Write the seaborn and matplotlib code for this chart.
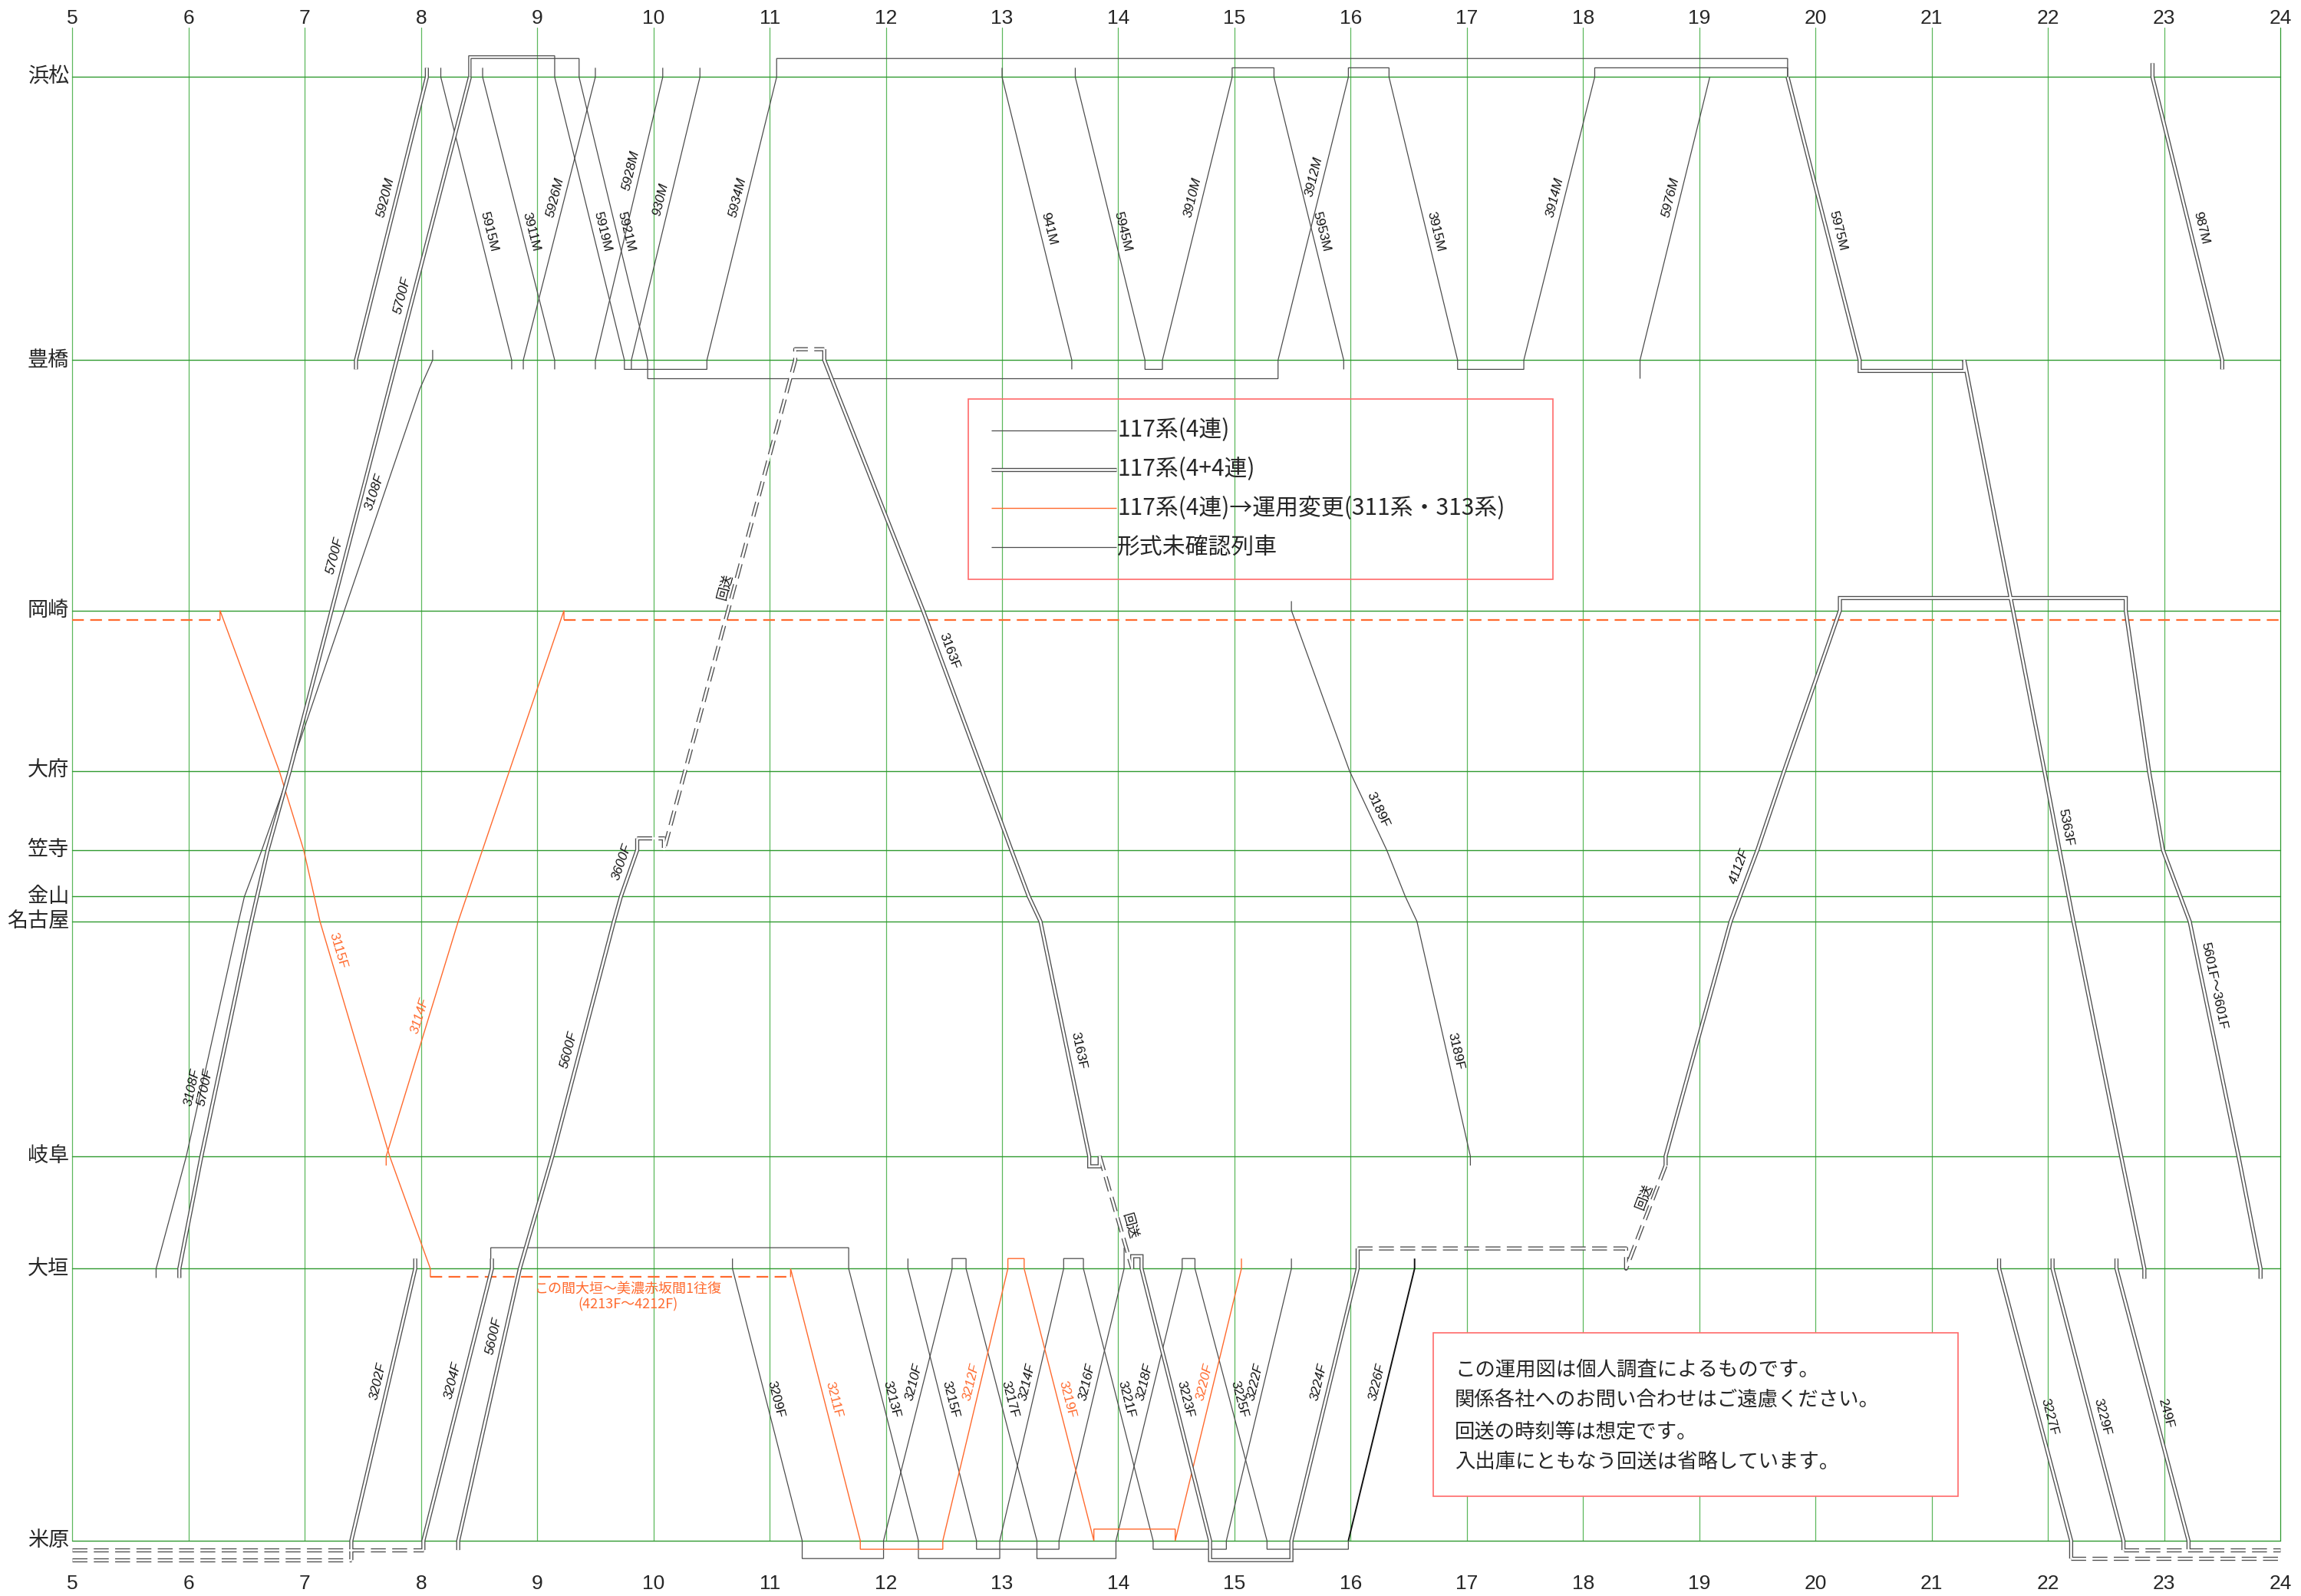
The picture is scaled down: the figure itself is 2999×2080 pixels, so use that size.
import math
import matplotlib
matplotlib.use('Agg')
import matplotlib.pyplot as plt
from matplotlib import font_manager as fm
from matplotlib.patches import Rectangle
import seaborn as sns

# --- stations (km along the line) ---
STATIONS = ['浜松', '豊橋', '岡崎', '大府', '笠寺', '金山', '名古屋', '岐阜', '大垣', '米原']
STATION_KM = [257.1, 293.6, 325.9, 346.6, 356.8, 362.8, 366.0, 396.3, 410.8, 445.9]
HOURS = list(range(5, 25))

# --- train runs: (hour, station, offset km from the station line) ---
# 117系 4連 (single line)
r5915M = [(8.17, '浜松', -1.2), (8.17, '浜松', 0), (8.78, '豊橋', 0), (8.78, '豊橋', 1.2)]
r3911M = [(8.53, '浜松', -1.2), (8.53, '浜松', 0), (9.15, '豊橋', 0), (9.15, '豊橋', 1.2)]
r5926M = [(8.88, '豊橋', 1.2), (8.88, '豊橋', 0), (9.50, '浜松', 0), (9.50, '浜松', -1.2)]
r5928M = [(9.50, '豊橋', 1.2), (9.50, '豊橋', 0), (10.08, '浜松', 0), (10.08, '浜松', -1.2)]
r930M = [(9.81, '豊橋', 1.2), (9.81, '豊橋', 0), (10.40, '浜松', 0), (10.40, '浜松', -1.2)]
r5919M = [(8.41, '浜松', 0), (8.41, '浜松', -2.75), (9.15, '浜松', -2.75), (9.15, '浜松', 0),
          (9.75, '豊橋', 0), (9.75, '豊橋', 1.2), (10.46, '豊橋', 1.2), (10.46, '豊橋', 0),
          (11.06, '浜松', 0), (11.06, '浜松', -2.4), (19.76, '浜松', -2.4), (19.76, '浜松', 0)]
r5921M = [(8.43, '浜松', 0), (8.43, '浜松', -2.4), (9.36, '浜松', -2.4), (9.36, '浜松', 0),
          (9.95, '豊橋', 0), (9.95, '豊橋', 2.4), (15.375, '豊橋', 2.4), (15.375, '豊橋', 0),
          (15.98, '浜松', 0), (15.98, '浜松', -1.2), (16.33, '浜松', -1.2), (16.33, '浜松', 0),
          (16.92, '豊橋', 0), (16.92, '豊橋', 1.2), (17.49, '豊橋', 1.2), (17.49, '豊橋', 0),
          (18.10, '浜松', 0), (18.10, '浜松', -1.2), (19.76, '浜松', -1.2), (19.76, '浜松', 0)]
r941M = [(13.00, '浜松', -1.2), (13.00, '浜松', 0), (13.60, '豊橋', 0), (13.60, '豊橋', 1.2)]
r5945M = [(13.63, '浜松', -1.2), (13.63, '浜松', 0), (14.23, '豊橋', 0), (14.23, '豊橋', 1.2),
          (14.38, '豊橋', 1.2), (14.38, '豊橋', 0), (14.98, '浜松', 0), (14.98, '浜松', -1.2),
          (15.34, '浜松', -1.2), (15.34, '浜松', 0), (15.94, '豊橋', 0), (15.94, '豊橋', 1.2)]
r5976M = [(18.49, '豊橋', 2.4), (18.49, '豊橋', 0), (19.09, '浜松', 0)]
r3108F = [(5.72, '大垣', 1.2), (5.72, '大垣', 0), (5.98, '岐阜', 0), (6.43, '名古屋', 0),
          (6.48, '金山', 0), (6.63, '笠寺', 0), (6.87, '大府', 0), (7.34, '岡崎', 0),
          (7.99, '豊橋', 3.7), (8.10, '豊橋', 0), (8.10, '豊橋', -1.3)]
r3189F = [(15.49, '岡崎', -1.2), (15.49, '岡崎', 0), (15.99, '大府', 0), (16.31, '笠寺', 0),
          (16.47, '金山', 0), (16.57, '名古屋', 0), (17.03, '岐阜', 0), (17.03, '岐阜', 1.2)]
r3209F = [(10.68, '大垣', -1.3), (10.68, '大垣', 0), (11.28, '米原', 0), (11.28, '米原', 2.3),
          (11.98, '米原', 2.3), (11.98, '米原', 0), (12.57, '大垣', 0), (12.57, '大垣', -1.3),
          (12.69, '大垣', -1.3), (12.69, '大垣', 0), (13.30, '米原', 0), (13.30, '米原', 2.3),
          (13.98, '米原', 2.3), (13.98, '米原', 0), (14.55, '大垣', 0), (14.55, '大垣', -1.3),
          (14.66, '大垣', -1.3), (14.66, '大垣', 0), (15.28, '米原', 0), (15.28, '米原', 1.1),
          (15.98, '米原', 1.1), (15.98, '米原', 0)]
r3213F = [(8.60, '大垣', 0), (8.60, '大垣', -2.7), (11.68, '大垣', -2.7), (11.68, '大垣', 0),
          (12.28, '米原', 0), (12.28, '米原', 2.3), (12.98, '米原', 2.3), (12.98, '米原', 0),
          (13.53, '大垣', 0), (13.53, '大垣', -1.3), (13.70, '大垣', -1.3), (13.70, '大垣', 0),
          (14.30, '米原', 0), (14.30, '米原', 1.1), (14.93, '米原', 1.1), (14.93, '米原', 0),
          (15.49, '大垣', 0), (15.49, '大垣', -1.3)]
r3215F = [(12.19, '大垣', -1.3), (12.19, '大垣', 0), (12.78, '米原', 0), (12.78, '米原', 1.1),
          (13.49, '米原', 1.1), (13.49, '米原', 0), (14.05, '大垣', 0), (14.05, '大垣', -2.7)]

# 形式未確認列車
b3226F = [(15.98, '米原', 0), (16.55, '大垣', 0), (16.55, '大垣', -1.3)]

# 117系 4連 -> 運用変更 (orange)
o3115F = [(6.27, '岡崎', 1.2), (6.27, '岡崎', 0), (6.78, '大府', 0), (6.99, '笠寺', 0),
          (7.13, '名古屋', 0), (7.73, '岐阜', 0), (8.08, '大垣', 0), (8.08, '大垣', 1.1)]
o3114F = [(7.70, '岐阜', 1.2), (7.70, '岐阜', 0), (8.32, '名古屋', 0), (9.23, '岡崎', 0),
          (9.23, '岡崎', 1.2)]
o3211F = [(11.18, '大垣', 1.1), (11.18, '大垣', 0), (11.78, '米原', 0), (11.78, '米原', 1.1),
          (12.49, '米原', 1.1), (12.49, '米原', 0), (13.05, '大垣', 0), (13.05, '大垣', -1.3),
          (13.19, '大垣', -1.3), (13.19, '大垣', 0), (13.79, '米原', 0), (13.79, '米原', -1.5),
          (14.49, '米原', -1.5), (14.49, '米原', 0), (15.06, '大垣', 0), (15.06, '大垣', -1.3)]
o_wait_okazaki_am = [(5.0, '岡崎', 1.2), (6.27, '岡崎', 1.2)]
o_wait_okazaki_pm = [(9.23, '岡崎', 1.2), (24.0, '岡崎', 1.2)]
o_wait_ogaki = [(8.08, '大垣', 1.1), (11.18, '大垣', 1.1)]

# 117系 4+4連 (double line)
d5920M = [(7.44, '豊橋', 1.2), (7.44, '豊橋', 0), (8.05, '浜松', 0), (8.05, '浜松', -1.2)]
d5700F = [(5.92, '大垣', 1.2), (5.92, '大垣', 0), (6.11, '岐阜', 0), (6.54, '名古屋', 0),
          (6.68, '笠寺', 0), (6.87, '大府', 0), (7.23, '岡崎', 0), (7.79, '豊橋', 0),
          (8.42, '浜松', 0)]
d3202F = [(7.40, '米原', 2.5), (7.40, '米原', 0), (7.95, '大垣', 0), (7.95, '大垣', -1.3)]
d3204F = [(8.02, '米原', 1.2), (8.02, '米原', 0), (8.61, '大垣', 0), (8.61, '大垣', -1.3)]
d5600F = [(8.32, '米原', 1.2), (8.32, '米原', 0), (8.85, '大垣', 0), (9.13, '岐阜', 0),
          (9.66, '名古屋', 0), (9.72, '金山', 0), (9.86, '笠寺', 0), (9.86, '笠寺', -1.5)]
d3163F = [(11.47, '豊橋', -1.4), (11.47, '豊橋', 0), (12.32, '岡崎', 0), (12.83, '大府', 0),
          (13.08, '笠寺', 0), (13.23, '金山', 0), (13.33, '名古屋', 0), (13.75, '岐阜', 0),
          (13.75, '岐阜', 1.3), (13.84, '岐阜', 1.3), (13.84, '岐阜', 0)]
d3223F = [(14.12, '大垣', 0), (14.12, '大垣', -1.6), (14.20, '大垣', -1.6), (14.20, '大垣', 0),
          (14.79, '米原', 0), (14.79, '米原', 2.5), (15.49, '米原', 2.5), (15.49, '米原', 0),
          (16.06, '大垣', 0), (16.06, '大垣', -2.6)]
d4112F = [(18.71, '岐阜', 1.2), (18.71, '岐阜', 0), (19.27, '名古屋', 0), (19.35, '金山', 0),
          (19.50, '笠寺', 0), (19.73, '大府', 0), (20.21, '岡崎', 0), (20.21, '岡崎', -1.6),
          (22.67, '岡崎', -1.6), (22.67, '岡崎', 0), (22.87, '大府', 0), (22.99, '笠寺', 0),
          (23.22, '名古屋', 0), (23.64, '岐阜', 0), (23.83, '大垣', 0), (23.83, '大垣', 1.3)]
d5975M = [(19.76, '浜松', 0), (20.38, '豊橋', 0), (20.38, '豊橋', 1.4), (21.28, '豊橋', 1.4),
          (21.28, '豊橋', 0), (21.70, '岡崎', 0), (21.97, '大府', 0), (22.10, '笠寺', 0),
          (22.22, '名古屋', 0), (22.63, '岐阜', 0), (22.83, '大垣', 0), (22.83, '大垣', 1.3)]
d987M = [(22.90, '浜松', -1.8), (22.90, '浜松', 0), (23.50, '豊橋', 0), (23.50, '豊橋', 1.2)]
d3227F = [(21.58, '大垣', -1.3), (21.58, '大垣', 0), (22.20, '米原', 0), (22.20, '米原', 2.3)]
d3229F = [(22.04, '大垣', -1.3), (22.04, '大垣', 0), (22.65, '米原', 0), (22.65, '米原', 1.2)]
d249F = [(22.59, '大垣', -1.3), (22.59, '大垣', 0), (23.21, '米原', 0), (23.21, '米原', 1.2)]

# 回送 (dashed double line)
k_maibara_am1 = [(5.0, '米原', 2.5), (7.40, '米原', 2.5)]
k_maibara_am2 = [(5.0, '米原', 1.2), (8.02, '米原', 1.2)]
k_kasadera = [(9.86, '笠寺', -1.5), (10.09, '笠寺', -1.5), (10.09, '笠寺', 0), (11.22, '豊橋', 0),
              (11.22, '豊橋', -1.4), (11.47, '豊橋', -1.4)]
k_gifu_ogaki = [(13.84, '岐阜', 0), (14.12, '大垣', 0)]
k_ogaki_gifu = [(16.06, '大垣', -2.6), (18.37, '大垣', -2.6), (18.37, '大垣', 0), (18.71, '岐阜', 1.2)]
k_maibara_pm1 = [(22.20, '米原', 2.3), (24.0, '米原', 2.3)]
k_maibara_pm2 = [(22.65, '米原', 1.2), (24.0, '米原', 1.2)]

SINGLE_RUNS = [r5915M, r3911M, r5926M, r5928M, r930M, r5919M, r5921M, r941M, r5945M,
               r5976M, r3108F, r3189F, r3209F, r3213F, r3215F]
ORANGE_RUNS = [o3115F, o3114F, o3211F]
ORANGE_WAITS = [o_wait_okazaki_am, o_wait_okazaki_pm, o_wait_ogaki]
DOUBLE_RUNS = [d5920M, d5700F, d3202F, d3204F, d5600F, d3163F, d3223F, d4112F, d5975M,
               d987M, d3227F, d3229F, d249F]
DEADHEAD_RUNS = [k_maibara_am1, k_maibara_am2, k_kasadera, k_gifu_ogaki, k_ogaki_gifu,
                 k_maibara_pm1, k_maibara_pm2]

# train number labels: (text, run, hour near the label, km of label centre)
LABELS = [
    ('5920M', d5920M, 7.7, 272.9), ('5700F', d5700F, 7.9, 285.6), ('5700F', d5700F, 7.3, 319.2),
    ('5700F', d5700F, 6.2, 387.7), ('3108F', r3108F, 7.6, 311.0), ('3108F', r3108F, 6.0, 387.7),
    ('5915M', r5915M, 8.5, 277.3), ('3911M', r3911M, 8.9, 277.3), ('5926M', r5926M, 9.2, 272.9),
    ('5919M', r5919M, 9.5, 277.3), ('5921M', r5921M, 9.7, 277.3), ('5928M', r5928M, 9.8, 269.4),
    ('930M', r930M, 10.1, 273.2), ('5934M', r5919M, 10.8, 272.9), ('941M', r941M, 13.3, 276.9),
    ('5945M', r5945M, 14.0, 277.3), ('3910M', r5945M, 14.6, 272.9), ('3912M', r5921M, 15.7, 270.2),
    ('5953M', r5945M, 15.7, 277.3), ('3915M', r5921M, 16.7, 277.3), ('3914M', r5921M, 17.8, 272.9),
    ('5976M', r5976M, 18.8, 272.9), ('5975M', d5975M, 20.1, 277.3), ('987M', d987M, 23.3, 276.9),
    ('3163F', d3163F, 12.4, 331.6), ('3163F', d3163F, 13.6, 383.0), ('3189F', r3189F, 16.3, 352.1),
    ('3189F', r3189F, 16.9, 383.0), ('3115F', o3115F, 7.2, 370.1), ('3114F', o3114F, 8.0, 378.5),
    ('3600F', d5600F, 9.8, 358.8), ('5600F', d5600F, 9.3, 382.9), ('5600F', d5600F, 8.6, 419.8),
    ('3202F', d3202F, 7.6, 425.6), ('3204F', d3204F, 8.2, 425.6), ('4112F', d4112F, 19.4, 359.4),
    ('5363F', d5975M, 22.1, 354.1), ('5601F～3601F', d4112F, 23.4, 374.6),
    ('3209F', r3209F, 11.0, 428.0), ('3211F', o3211F, 11.5, 428.0), ('3213F', r3213F, 12.0, 428.0),
    ('3210F', r3209F, 12.3, 425.7), ('3215F', r3215F, 12.5, 428.0), ('3212F', o3211F, 12.8, 425.7),
    ('3217F', r3209F, 13.0, 428.0), ('3214F', r3213F, 13.3, 425.7), ('3219F', o3211F, 13.5, 428.0),
    ('3216F', r3215F, 13.8, 425.7), ('3221F', r3213F, 14.0, 428.0), ('3218F', r3209F, 14.3, 425.7),
    ('3223F', d3223F, 14.5, 428.0), ('3220F', o3211F, 14.8, 425.7), ('3225F', r3209F, 15.0, 428.0),
    ('3222F', r3213F, 15.2, 425.7), ('3224F', d3223F, 15.8, 425.7), ('3226F', b3226F, 16.3, 425.7),
    ('3227F', d3227F, 21.9, 430.3), ('3229F', d3229F, 22.4, 430.3), ('249F', d249F, 23.0, 429.8),
    ('回送', k_kasadera, 10.6, 323.1), ('回送', k_gifu_ogaki, 14.0, 405.6),
    ('回送', k_ogaki_gifu, 18.5, 401.9),
]

LEGEND_TEXT = ['117系(4連)', '117系(4+4連)', '117系(4連)→運用変更(311系・313系)', '形式未確認列車']
NOTE_TEXT = ['この運用図は個人調査によるものです。', '関係各社へのお問い合わせはご遠慮ください。',
             '回送の時刻等は想定です。', '入出庫にともなう回送は省略しています。']
OGAKI_NOTE = ['この間大垣～美濃赤坂間1往復', '(4213F～4212F)']

# --- styling ---
sns.set_theme(style='white')
plt.rcParams['font.family'] = ['Noto Sans CJK JP', 'DejaVu Sans']
plt.rcParams['lines.scale_dashes'] = False
names = {f.name for f in fm.fontManager.ttflist}
narrow = 'Liberation Sans Narrow' if 'Liberation Sans Narrow' in names else 'Liberation Sans'

GRAY = '#4d4d4d'
ORANGE = '#ff6a2e'
GREEN_V = '#5cb85c'
GREEN_H = '#2f9a2f'
BOX_RED = '#ff6b6b'

W, H = 2999, 2080
XMIN, XMAX = 4.3767, 24.178
YTOP, YBOT = 247.153, 453.03
PXH = W / (XMAX - XMIN)
PXK = H / (YBOT - YTOP)
km_of = dict(zip(STATIONS, STATION_KM))


def xy(run):
    return [p[0] for p in run], [km_of[p[1]] + p[2] for p in run]


def px(x, y):
    return XMIN + x / PXH, YTOP + y / PXK


fig = plt.figure(figsize=(W / 100, H / 100), dpi=100)
ax = fig.add_axes([0, 0, 1, 1])


def draw(run, color, lw, z, dashes=None):
    xs, ys = xy(run)
    sns.lineplot(x=xs, y=ys, sort=False, estimator=None, color=color, linewidth=lw, ax=ax, zorder=z)
    ln = ax.lines[-1]
    ln.set_solid_joinstyle('miter')
    ln.set_solid_capstyle('butt')
    if dashes:
        ln.set_dashes(dashes)
        ln.set_dash_capstyle('butt')


# grid
for h in HOURS:
    ax.plot([h, h], [250.7, km_of['米原']], color=GREEN_V if h < 24 else GREEN_H, lw=0.9, zorder=1)
for s in STATIONS:
    ax.plot([5, 24], [km_of[s], km_of[s]], color=GREEN_H, lw=1.0, zorder=1)

for run in SINGLE_RUNS:
    draw(run, GRAY, 0.9, 3)
draw(b3226F, '#111111', 1.4, 3)
for run in ORANGE_RUNS:
    draw(run, ORANGE, 1.0, 3)
for run in ORANGE_WAITS:
    draw(run, ORANGE, 1.6, 3, dashes=(11, 6))
for run in DOUBLE_RUNS:
    draw(run, GRAY, 3.8, 4)
    draw(run, 'white', 1.9, 4.1)
for run in DEADHEAD_RUNS:
    draw(run, GRAY, 3.8, 4, dashes=(14, 6))
    draw(run, 'white', 1.9, 4.1)


def place(text, run, t_hint, km):
    xs, ys = xy(run)
    best = None
    for t0, y0, t1, y1 in zip(xs[:-1], ys[:-1], xs[1:], ys[1:]):
        if t0 == t1 or y0 == y1:
            continue
        if min(y0, y1) <= km <= max(y0, y1):
            t = t0 + (km - y0) / (y1 - y0) * (t1 - t0)
            if best is None or abs(t - t_hint) < abs(best[0] - t_hint):
                best = (t, t0, y0, t1, y1)
    t, t0, y0, t1, y1 = best
    ang = -math.degrees(math.atan2((y1 - y0) * PXK, (t1 - t0) * PXH))
    d = 14 if run in DOUBLE_RUNS else 12
    ox = -math.sin(math.radians(ang)) * d
    oy = -math.cos(math.radians(ang)) * d
    color = ORANGE if run in ORANGE_RUNS else '#111111'
    if text == '回送':
        fam, size, style = ['Noto Sans CJK JP'], 12.5, 'normal'
    else:
        fam, size = [narrow, 'Noto Sans CJK JP'], 12.5
        style = 'italic' if ang > 0 else 'normal'
    ax.text(t + ox / PXH, km + oy / PXK, text, rotation=ang, rotation_mode='anchor',
            ha='center', va='center', fontsize=size, family=fam, style=style, color=color, zorder=5)


for text, run, t_hint, km in LABELS:
    place(text, run, t_hint, km)

# hour labels and station names
for h in HOURS:
    ax.text(h, px(0, 24)[1], str(h), ha='center', va='center', fontsize=19, family=[narrow, 'DejaVu Sans'])
    ax.text(h, px(0, 2064)[1], str(h), ha='center', va='center', fontsize=19, family=[narrow, 'DejaVu Sans'])
for s in STATIONS:
    ax.text(px(90, 0)[0], km_of[s], s, ha='right', va='center', fontsize=19.5)

# legend box
x0, y0 = px(1262, 520)
x1, y1 = px(2024, 755)
ax.add_patch(Rectangle((x0, y0), x1 - x0, y1 - y0, fill=False, edgecolor=BOX_RED, lw=1.2, zorder=6))
for i, txt in enumerate(LEGEND_TEXT):
    ly = 561 + 50.7 * i
    run = [(px(1292, 0)[0], '浜松', px(0, ly)[1] - km_of['浜松']), (px(1455, 0)[0], '浜松', px(0, ly)[1] - km_of['浜松'])]
    if i == 1:
        draw(run, GRAY, 3.8, 6)
        draw(run, 'white', 1.9, 6.1)
    elif i == 2:
        draw(run, ORANGE, 1.0, 6)
    else:
        draw(run, GRAY, 0.9, 6)
    ax.text(px(1456, 0)[0], px(0, ly)[1], txt, ha='left', va='center', fontsize=21.5, zorder=6)

# notes box
x0, y0 = px(1868, 1737)
x1, y1 = px(2552, 1950)
ax.add_patch(Rectangle((x0, y0), x1 - x0, y1 - y0, facecolor='white', edgecolor=BOX_RED, lw=1.2, zorder=6))
for i, txt in enumerate(NOTE_TEXT):
    ax.text(px(1896, 0)[0], px(0, 1785 + 40.3 * i)[1], txt, ha='left', va='center', fontsize=19, zorder=7)

# note on the 大垣 wait
for i, txt in enumerate(OGAKI_NOTE):
    ax.text(px(819, 0)[0], px(0, 1680 + 20 * i)[1], txt, ha='center', va='center', fontsize=13,
            color=ORANGE, zorder=5)

ax.set_xlim(XMIN, XMAX)
ax.set_ylim(YBOT, YTOP)
ax.axis('off')
fig.savefig('out.png', dpi=100, facecolor='white')
